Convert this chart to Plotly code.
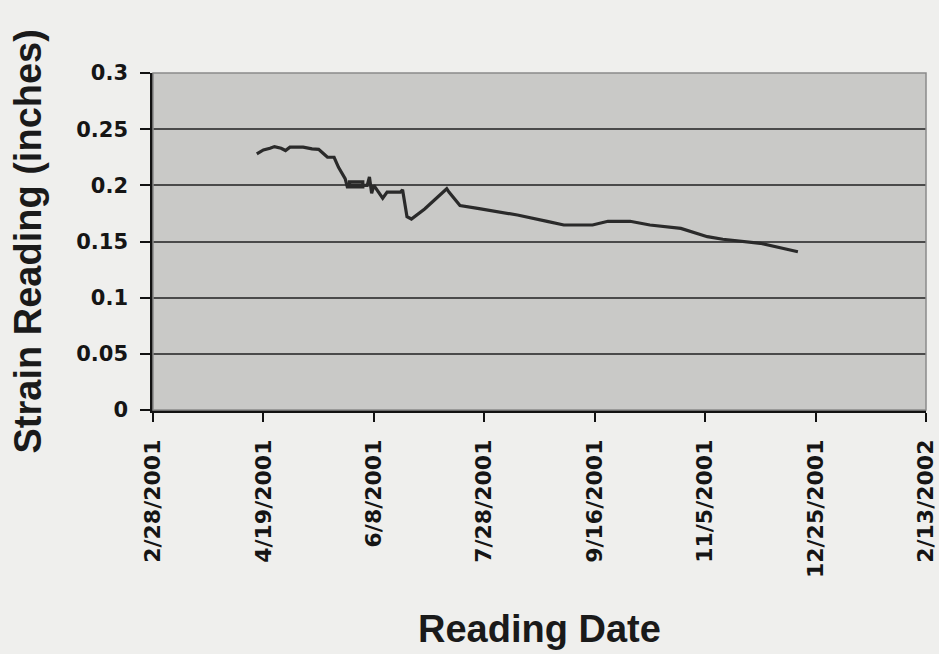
import plotly.graph_objects as go

# Data
dates = [
    "2001-04-16", "2001-04-19", "2001-04-22", "2001-04-24", "2001-04-27",
    "2001-04-29", "2001-05-01", "2001-05-07", "2001-05-11", "2001-05-14",
    "2001-05-16", "2001-05-18", "2001-05-21", "2001-05-23", "2001-05-26",
    "2001-05-27", "2001-06-03", "2001-06-03", "2001-05-28", "2001-05-28",
    "2001-06-05", "2001-06-06", "2001-06-07", "2001-06-08", "2001-06-12",
    "2001-06-14", "2001-06-20", "2001-06-21", "2001-06-23", "2001-06-25",
    "2001-07-01", "2001-07-08", "2001-07-11", "2001-07-12", "2001-07-17",
    "2001-07-25", "2001-08-03", "2001-08-12", "2001-08-26", "2001-09-02",
    "2001-09-15", "2001-09-22", "2001-10-02", "2001-10-11", "2001-10-25",
    "2001-11-06", "2001-11-13", "2001-11-30", "2001-12-17",
]
strain = [
    0.228, 0.2315, 0.233, 0.2345, 0.233,
    0.231, 0.234, 0.234, 0.2325, 0.232,
    0.2285, 0.225, 0.225, 0.216, 0.206,
    0.1985, 0.1985, 0.203, 0.203, 0.2,
    0.2, 0.2075, 0.193, 0.2, 0.1885,
    0.194, 0.194, 0.196, 0.172, 0.170,
    0.179, 0.1914, 0.197, 0.194, 0.182,
    0.1795, 0.1766, 0.1736, 0.1677, 0.1647,
    0.1647, 0.168, 0.168, 0.1647, 0.1617,
    0.1543, 0.152, 0.1484, 0.1409,
]

x_tick_dates = ["2001-02-28", "2001-04-19", "2001-06-08", "2001-07-28",
                "2001-09-16", "2001-11-05", "2001-12-25", "2002-02-13"]
x_tick_text = ["2/28/2001", "4/19/2001", "6/8/2001", "7/28/2001",
               "9/16/2001", "11/5/2001", "12/25/2001", "2/13/2002"]
y_tick_vals = [0, 0.05, 0.1, 0.15, 0.2, 0.25, 0.3]
y_tick_text = ["0", "0.05", "0.1", "0.15", "0.2", "0.25", "0.3"]

x_title = "Reading Date"
y_title = "Strain Reading (inches)"

fig = go.Figure()
fig.add_trace(go.Scatter(
    x=dates, y=strain, mode="lines",
    line=dict(color="#2a2a2a", width=3.2),
    showlegend=False,
))

fig.update_layout(
    width=939, height=654,
    margin=dict(l=153, r=13, t=73, b=244, autoexpand=False),
    paper_bgcolor="#efefed",
    plot_bgcolor="#c9c9c7",
    font=dict(family="DejaVu Sans", color="#151515"),
    xaxis=dict(
        type="date",
        range=["2001-02-28", "2002-02-13"],
        tickvals=x_tick_dates, ticktext=x_tick_text,
        tickangle=-90,
        tickfont=dict(family="DejaVu Sans", size=22, color="#151515", weight="bold"),
        showgrid=False, zeroline=False, automargin=False,
        showline=True, linecolor="#111111", linewidth=2.5,
        ticks="outside", ticklen=9, tickwidth=2, tickcolor="#111111",
        ticklabelstandoff=9,
    ),
    yaxis=dict(
        range=[0, 0.3],
        tickvals=y_tick_vals, ticktext=y_tick_text,
        tickfont=dict(family="DejaVu Sans", size=21, color="#151515", weight="bold"),
        showgrid=True, gridcolor="#4a4a4a", gridwidth=2,
        zeroline=False, automargin=False,
        showline=True, linecolor="#111111", linewidth=2.5,
        ticks="outside", ticklen=10, tickwidth=2, tickcolor="#111111",
        ticklabelstandoff=8,
    ),
    shapes=[dict(
        type="rect", xref="paper", yref="paper", x0=0, x1=1, y0=0, y1=1,
        line=dict(color="#8a8a8a", width=1.5), fillcolor="rgba(0,0,0,0)",
        layer="above",
    )],
    annotations=[
        dict(text=f"<b>{x_title}</b>", xref="paper", yref="paper",
             x=0.5, y=0, xanchor="center", yanchor="middle", yshift=-219,
             showarrow=False,
             font=dict(family="Liberation Sans", size=38, color="#1a1a1a")),
        dict(text=f"<b>{y_title}</b>", xref="paper", yref="paper",
             x=0, y=0.5, xanchor="center", yanchor="middle", xshift=-126,
             textangle=-90, showarrow=False,
             font=dict(family="Liberation Sans", size=38, color="#1a1a1a")),
    ],
)

fig.write_html(
    "out.html",
    config={"displayModeBar": False},
    post_script="document.body.style.margin='0';document.body.style.background='#efefed';",
)
